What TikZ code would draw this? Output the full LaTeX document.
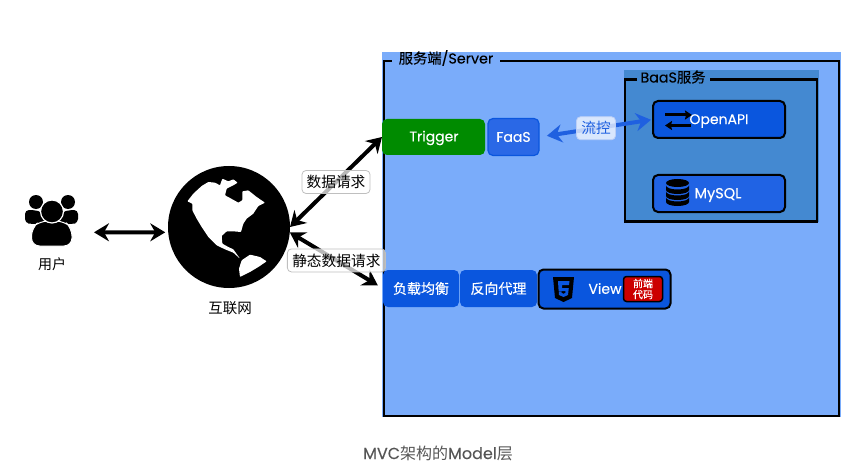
\documentclass[tikz,border=0pt]{standalone}
\usepackage{fontspec}
\setmainfont[FakeBold=0.25]{Poppins}
\newfontfamily\cjk{Noto Sans CJK SC}
\newfontfamily\cjkbold[FakeBold=0.25]{Noto Sans CJK SC}
\usetikzlibrary{arrows.meta}
\usetikzlibrary{positioning}
\definecolor{serverblue}{HTML}{7AACFA}
\definecolor{baasblue}{HTML}{4489D1}
\definecolor{boxblue}{HTML}{0A56DE}
\definecolor{faasblue}{HTML}{2A68E6}
\definecolor{flowblue}{HTML}{1F60E0}
\definecolor{triggergreen}{HTML}{008B00}
\definecolor{codered}{HTML}{CC0000}
\definecolor{capgray}{HTML}{555555}
\newcommand{\zh}[1]{{\cjk #1}}
\newcommand{\zhb}[1]{{\cjkbold #1}}
\newcommand{\sz}[1]{\fontsize{#1}{#1}\selectfont}

\begin{document}
\begin{tikzpicture}[x=1pt, y=-1pt, <->, >={Stealth[length=15pt, width=18pt, inset=5pt]}]
\tikzstyle{every node} = [inner sep=0pt, outer sep=0pt, align=center]
\tikzstyle{service} = [fill=boxblue, text=white, rounded corners=5pt, minimum height=37pt, font=\sz{14}]
\tikzstyle{inkbox} = [service, draw=black, line width=2pt]
\tikzstyle{bubble} = [draw=black!25, fill=white, fill opacity=0.72, text opacity=1, rounded corners=4pt, minimum height=23pt, font=\sz{14.7}, line width=0.8pt]
\tikzstyle{frame} = [draw=black, line width=2.5pt]
\tikzstyle{title} = [text=black, font=\sz{14.3}, text height=10pt, text depth=3pt]
\tikzstyle{caption} = [text=black, font=\sz{14}]
\tikzstyle{link} = [line width=4pt, draw=black]

\useasboundingbox (0,0) rectangle (865,476);

% server area
\path[-, fill=serverblue] (382,52) rectangle (841,417);
\node[frame, minimum width=455pt, minimum height=355pt] (server) at (611.5,238.5) {};
\node[title, fill=serverblue, minimum width=108pt] (servertitle) at (446,60) {\zhb{服务端}/Server};

% BaaS
\path[-, fill=baasblue] (624,70) rectangle (819,222);
\node[frame, minimum width=192pt, minimum height=142pt] (baas) at (721,150.5) {};
\node[title, fill=baasblue, minimum width=73pt] (baastitle) at (673,79) {BaaS\zhb{服务}};
\node[inkbox, minimum width=132pt] (openapi) at (719,119.5) {};
\node[inkbox, minimum width=132pt, fill=faasblue!70!boxblue] (mysql) at (719,193.5) {};

% icons in the boxes
\draw[-{Stealth[length=7pt, width=9pt, inset=1pt]}, line width=3pt] (665,115) -- (692,115);
\draw[-{Stealth[length=7pt, width=9pt, inset=1pt]}, line width=3pt] (691,125.5) -- (665,125.5);
\path[-, fill=black] (677.5,183) ellipse [x radius=11.5, y radius=4];
\foreach \y in {185.5,191.5,197.5} {
  \path[-, fill=black] (666,\y) arc[start angle=180, end angle=360, x radius=11.5, y radius=-4] -- ++(0,4.5) arc[start angle=0, end angle=-180, x radius=11.5, y radius=-4] -- cycle;
}
\node[text=white, font=\sz{14}] (openapitext) at (719,121) {OpenAPI};
\node[text=white, font=\sz{14.5}] (mysqltext) at (718,195) {MySQL};

% entry row
\node[service, fill=triggergreen, minimum width=103pt, minimum height=36pt] (trigger) at (433.5,137) {\phantom{Trigger}};
\node[text=white, font=\sz{14}] (triggertext) at (434,138) {Trigger};
\node[service, fill=faasblue, draw=boxblue, line width=1.2pt, minimum width=51pt] (faas) [right=3pt of trigger] {FaaS};
\node[service, minimum width=76pt] (lb) at (421,288.5) {\zhb{负载均衡}};
\node[service, minimum width=77pt] (proxy) [right=1pt of lb] {\zhb{反向代理}};
\node[inkbox, minimum width=132pt, minimum height=39pt] (view) at (604.5,289) {};
\node[text=white, font=\sz{14}] (viewtext) at (605,288.5) {View};
\node[draw=black, line width=1.5pt, fill=codered, text=white, rounded corners=3pt, minimum width=39pt, minimum height=25pt, font=\sz{10}] (frontcode) at (643,289) {\zhb{前端}\\[1pt]\zhb{代码}};

% html5 shield
\path[-, fill=black] (553,277) -- (574,277) -- (572,298) -- (563.5,302) -- (555,298) -- cycle;
\path[-, fill=boxblue] (558,281) -- (569.5,281) -- (569,285) -- (562,285) -- (562.2,288) -- (568.8,288) -- (568,295) -- (563.5,297) -- (559,295) -- (558.8,291.5) -- (561.5,291.5) -- (561.6,293) -- (563.5,293.7) -- (565.3,293) -- (565.6,291) -- (558.6,291) -- cycle;

% user
\node[minimum width=53pt, minimum height=52pt] (user) at (52,220) {};
\path[-, fill=black] (36,202) circle (7);
\path[-, fill=black] (68,202) circle (7);
\path[-, fill=black, rounded corners=4pt] (25,223) -- (25,210) -- (34,210) -- (42,212) -- (48,224) -- (32,224) -- cycle;
\path[-, fill=black, rounded corners=4pt] (78,223) -- (78,210) -- (70,210) -- (62,212) -- (56,224) -- (72,224) -- cycle;
\path[-, fill=black, draw=white, line width=1pt, rounded corners=8pt] (31.5,246) -- (31.5,228) -- (40,221) -- (64,221) -- (72,228) -- (72,246) -- cycle;
\path[-, fill=black, draw=white, line width=1.2pt] (52,211.5) circle (11.5);
\node[caption] (usertext) at (52,264) {\zh{用户}};
\coordinate (userend) at (94,232.3);

% globe
\node[circle, fill=black, minimum size=122pt] (globe) at (229,227) {};
\begin{scope}[shift={(165,162)}, x=0.3333pt, y=-0.3333pt]
\path[-, fill=white, rounded corners=0.7pt] (67,118) -- (85,95) -- (110,72) -- (130,60) -- (150,62) -- (165,70) -- (172,50) -- (190,58) -- (205,52) -- (218,62) -- (205,70) -- (185,80) -- (180,100) -- (195,108) -- (220,122) -- (232,115) -- (232,88) -- (250,85) -- (275,105) -- (300,122) -- (280,132) -- (265,155) -- (245,170) -- (235,185) -- (228,210) -- (205,208) -- (185,208) -- (170,222) -- (172,245) -- (190,255) -- (205,262) -- (225,290) -- (205,272) -- (180,262) -- (155,250) -- (130,225) -- (110,195) -- (95,170) -- (82,145) -- (82,125) -- cycle;
\path[-, fill=white, rounded corners=0.7pt] (230,295) -- (255,278) -- (285,285) -- (305,298) -- (280,315) -- (255,330) -- (225,345) -- (222,320) -- cycle;
\end{scope}
\node[caption, font=\sz{14.5}] (globetext) at (230,308) {\zh{互联网}};

% links
\draw[link, shorten >=3pt] (userend) -- (globe.185);
\draw[link] (globe.east) -- node[bubble, minimum width=68pt] (datareq) {\zh{数据请求}} (trigger.west);
\draw[link, shorten >=6pt] (globe.-5) -- node[bubble, minimum width=98pt, pos=0.5] (staticreq) {\zh{静态数据请求}} (lb.west);
\draw[link, draw=flowblue, shorten <=8pt, shorten >=2pt] (faas.east) -- node[bubble, draw=white!70!flowblue, text=flowblue, minimum width=39pt] (flow) {\zh{流控}} (openapi.west);

\node[text=capgray, font=\sz{16}] (captiontext) at (438,453) {MVC\zh{架构的}Model\zh{层}};
\end{tikzpicture}
\end{document}
